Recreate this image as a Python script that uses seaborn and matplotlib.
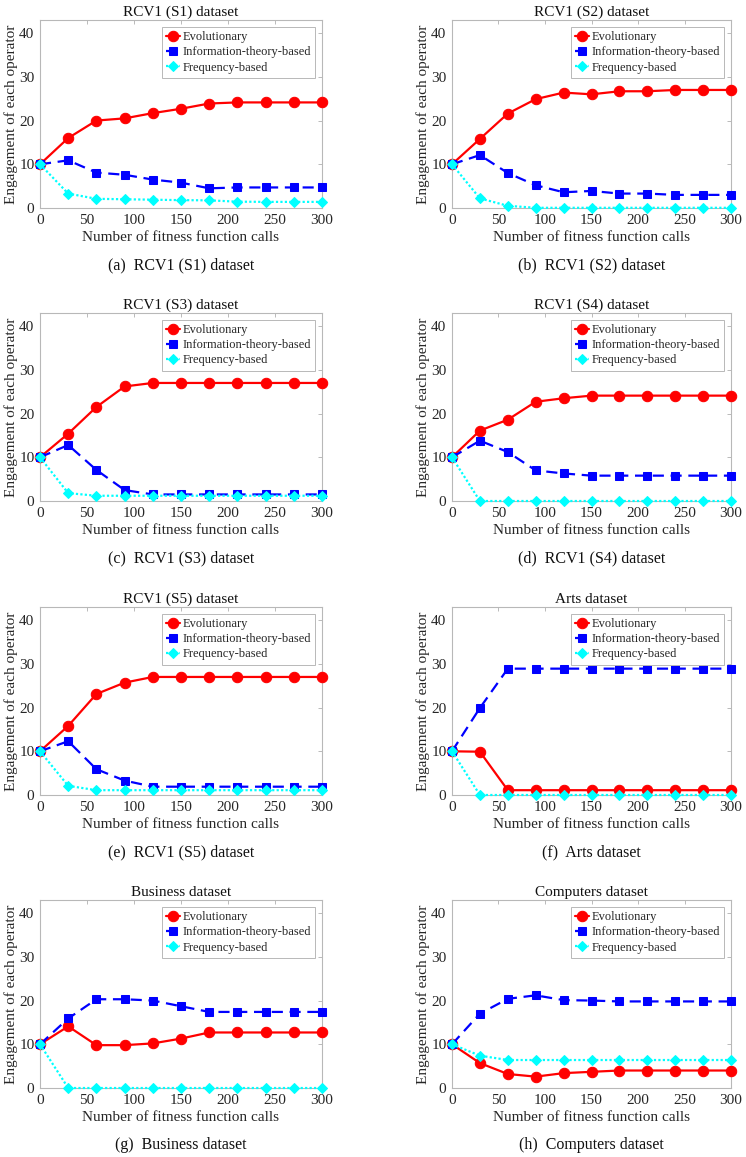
import numpy as np
import pandas as pd
import matplotlib
matplotlib.use("Agg")
import matplotlib.pyplot as plt
import seaborn as sns

# ---------- Data ----------
calls = [0, 30, 60, 90, 120, 150, 180, 210, 240, 270, 300]

titles = ["RCV1 (S1) dataset", "RCV1 (S2) dataset", "RCV1 (S3) dataset", "RCV1 (S4) dataset",
          "RCV1 (S5) dataset", "Arts dataset", "Business dataset", "Computers dataset"]
captions = ["(a)", "(b)", "(c)", "(d)", "(e)", "(f)", "(g)", "(h)"]

evo_s1  = [10, 16.0, 20.0, 20.5, 21.7, 22.7, 23.9, 24.15, 24.15, 24.15, 24.15]
info_s1 = [10, 10.9, 8.1, 7.6, 6.5, 5.8, 4.5, 4.7, 4.7, 4.7, 4.7]
freq_s1 = [10, 3.3, 2.1, 2.0, 1.9, 1.8, 1.75, 1.45, 1.4, 1.4, 1.4]

evo_s2  = [10, 15.8, 21.6, 24.9, 26.4, 26.0, 26.7, 26.7, 27.0, 27.0, 27.0]
info_s2 = [10, 12.1, 8.0, 5.2, 3.6, 3.9, 3.3, 3.3, 3.0, 3.0, 3.0]
freq_s2 = [10, 2.2, 0.5, 0.05, 0.05, 0.05, 0.05, 0.05, 0.05, 0.05, 0.05]

evo_s3  = [10, 15.4, 21.5, 26.2, 27.0, 27.0, 27.0, 27.0, 27.0, 27.0, 27.0]
info_s3 = [10, 12.8, 7.1, 2.5, 1.5, 1.5, 1.5, 1.5, 1.5, 1.5, 1.5]
freq_s3 = [10, 1.8, 1.2, 1.2, 1.2, 1.2, 1.2, 1.2, 1.2, 1.2, 1.2]

evo_s4  = [10, 16.1, 18.6, 22.7, 23.5, 24.1, 24.1, 24.1, 24.1, 24.1, 24.1]
info_s4 = [10, 13.8, 11.2, 7.0, 6.3, 5.8, 5.8, 5.8, 5.8, 5.8, 5.8]
freq_s4 = [10, 0, 0, 0, 0, 0, 0, 0, 0, 0, 0]

evo_s5  = [10, 15.8, 23.1, 25.7, 27.0, 27.0, 27.0, 27.0, 27.0, 27.0, 27.0]
info_s5 = [10, 12.3, 5.9, 3.3, 1.9, 1.9, 1.9, 1.9, 1.9, 1.9, 1.9]
freq_s5 = [10, 2.1, 1.1, 1.1, 1.1, 1.1, 1.1, 1.1, 1.1, 1.1, 1.1]

evo_arts  = [10, 9.9, 1.1, 1.1, 1.1, 1.1, 1.1, 1.1, 1.1, 1.1, 1.1]
info_arts = [10, 19.9, 28.9, 28.9, 28.9, 28.9, 28.9, 28.9, 28.9, 28.9, 28.9]
freq_arts = [10, 0, 0, 0, 0, 0, 0, 0, 0, 0, 0]

evo_bus  = [10, 14.1, 9.8, 9.8, 10.2, 11.3, 12.7, 12.7, 12.7, 12.7, 12.7]
info_bus = [10, 15.9, 20.3, 20.3, 20.0, 18.7, 17.4, 17.4, 17.4, 17.4, 17.4]
freq_bus = [10, 0, 0, 0, 0, 0, 0, 0, 0, 0, 0]

evo_comp  = [10, 5.7, 3.2, 2.6, 3.4, 3.7, 4.0, 4.0, 4.0, 4.0, 4.0]
info_comp = [10, 17.0, 20.4, 21.2, 20.1, 20.0, 19.8, 19.8, 19.8, 19.8, 19.8]
freq_comp = [10, 7.4, 6.4, 6.4, 6.4, 6.4, 6.4, 6.4, 6.4, 6.4, 6.4]

panels = [
    (evo_s1, info_s1, freq_s1), (evo_s2, info_s2, freq_s2),
    (evo_s3, info_s3, freq_s3), (evo_s4, info_s4, freq_s4),
    (evo_s5, info_s5, freq_s5), (evo_arts, info_arts, freq_arts),
    (evo_bus, info_bus, freq_bus), (evo_comp, info_comp, freq_comp),
]

series_names = ["Evolutionary", "Information-theory-based", "Frequency-based"]
series_style = [
    dict(color="#FF0000", marker="o", markersize=7.5, linestyle="-"),
    dict(color="#0000FF", marker="s", markersize=6.2, linestyle=(0, (5, 3))),
    dict(color="#00FFFF", marker="D", markersize=5.6, linestyle=(0, (1, 1))),
]

# ---------- Style ----------
sns.set_theme(style="white")
plt.rcParams["font.family"] = ["Liberation Serif", "DejaVu Serif"]

W, H = 746, 1157
fig = plt.figure(figsize=(W / 100, H / 100), dpi=100)

col_x = [(40, 322), (452, 731)]
row_top = [20, 313, 607, 900]
ax_h = 188

for i, (title, cap, vals) in enumerate(zip(titles, captions, panels)):
    r, c = divmod(i, 2)
    x0, x1 = col_x[c]
    top = row_top[r]
    ax = fig.add_axes([x0 / W, (H - top - ax_h) / H, (x1 - x0) / W, ax_h / H])

    for name, v, st in zip(series_names, vals, series_style):
        sns.lineplot(x=calls, y=v, ax=ax, label=name, linewidth=1.6,
                     markeredgecolor=st["color"], clip_on=False, zorder=3, **st)

    ax.set_xlim(0, 300)
    ax.set_ylim(0, 43)
    ax.set_xticks(range(0, 301, 50))
    ax.set_yticks(range(0, 41, 10))
    ax.tick_params(direction="in", length=3, width=0.6, color="#b0b0b0",
                   labelsize=11, labelcolor="#262626", top=True, right=True, pad=4)
    for sp in ax.spines.values():
        sp.set_color("#b8b8b8")
        sp.set_linewidth(0.8)

    ax.set_title(title, fontsize=11, pad=3, color="#111111")
    ax.set_xlabel("Number of fitness function calls", fontsize=11, labelpad=3, color="#262626")
    ax.set_ylabel("Engagement of each operator", fontsize=11, labelpad=1, color="#262626")

    leg = ax.legend(loc="upper right", fontsize=9, frameon=True, fancybox=False,
                    framealpha=1, edgecolor="#b8b8b8", handlelength=1.1,
                    handletextpad=0.2, borderpad=0.35, labelspacing=0.25,
                    borderaxespad=0.55)
    leg.get_frame().set_linewidth(0.7)

    fig.text((x0 + x1) / 2 / W, 1 - (top + 245) / H, f"{cap}  {title}",
             ha="center", va="center", fontsize=11.5, color="#111111")

fig.savefig("out.png", dpi=100)
